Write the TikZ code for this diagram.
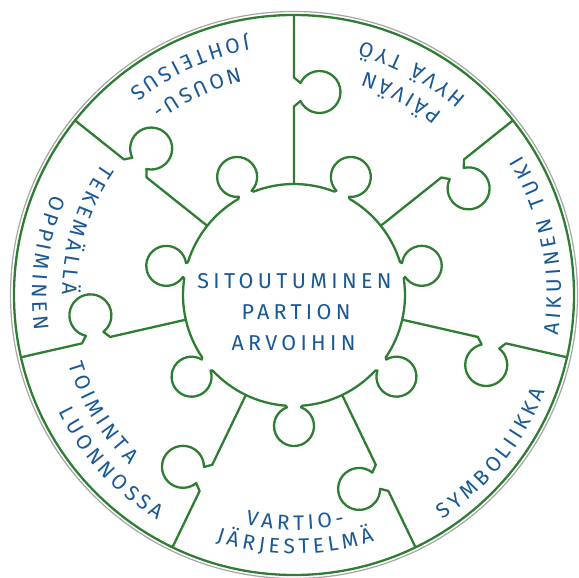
\documentclass[tikz,border=0pt]{standalone}
\usepackage{fontspec}
\setmainfont{Fira Sans}
\newfontfamily\lbl{Fira Sans}
\newfontfamily\clbl[LetterSpace=20]{Fira Sans}
\usetikzlibrary{decorations.text}
\definecolor{pgreen}{RGB}{46,125,50}
\definecolor{pblue}{RGB}{24,88,150}
\definecolor{pgray}{RGB}{165,165,165}
\newcommand\ringfont{\lbl\fontsize{21}{25}\selectfont\kern4pt}
\newcommand\ctrfont{\clbl\fontsize{21.5}{25}\selectfont}
\begin{document}
\begin{tikzpicture}[x=1pt,y=1pt,
  puz/.style={draw=pgreen, line width=2.3pt, line cap=round, line join=round},
  ringtext/.style={decorate, decoration={text along path, text align=center, text color=pblue, text={|\ringfont|#1}}},
  ctr/.style={font=\ctrfont, text=pblue, anchor=base, inner sep=0pt}
]
\useasboundingbox (-294,-283) rectangle (285,295);
% outer rings
\draw[pgray, line width=1.2pt] (0,0) circle[radius=283.5];
\draw[puz] (0,0) circle[radius=280];
% central piece with knobs
\foreach \k in {0,...,6}{
  \begin{scope}[rotate={270+\k*360/7}]
    \draw[puz] (-4.39:111) -- (112.3,-7) arc[start angle=200.5, end angle=519.5, radius=20]
      -- (4.39:111) arc[start angle=4.39, end angle={360/7-4.39}, radius=111];
  \end{scope}
}
% radial edges with knobs
\foreach \k in {0,...,6}{
  \begin{scope}[rotate={90+\k*360/7}]
    \draw[puz] (111,0) -- (188.5,0) -- (194,-6.5) arc[start angle=115.35, end angle=424.65, radius=21]
      -- (217.5,0) -- (280,0);
  \end{scope}
}
% central text
\node[ctr] (t1) at (0.5,6.5) {SITOUTUMINEN};
\node[ctr] (t2) at (2,-25) {PARTION};
\node[ctr] (t3) at (-0.5,-55.5) {ARVOIHIN};
% ring texts (counter-clockwise arcs, letters facing centre)
\path[ringtext={PÄIVÄN}] (21:234) arc[start angle=21, end angle=101, radius=234];
\path[ringtext={HYVÄ TYÖ}] (21.5:262) arc[start angle=21.5, end angle=101.5, radius=262];
\path[ringtext={NOUSU-}] (75:234) arc[start angle=75, end angle=155, radius=234];
\path[ringtext={JOHTEISUS}] (74:263) arc[start angle=74, end angle=154, radius=263];
\path[ringtext={TEKEMÄLLÄ}] (122.3:232) arc[start angle=122.3, end angle=202.3, radius=232];
\path[ringtext={OPPIMINEN}] (132.2:262) arc[start angle=132.2, end angle=212.2, radius=262];
\path[ringtext={TOIMINTA}] (171:236) arc[start angle=171, end angle=251, radius=236];
\path[ringtext={LUONNOSSA}] (182.2:263) arc[start angle=182.2, end angle=262.2, radius=263];
\path[ringtext={VARTIO-}] (229.8:235) arc[start angle=229.8, end angle=309.8, radius=235];
\path[ringtext={JÄRJESTELMÄ}] (229.8:259) arc[start angle=229.8, end angle=309.8, radius=259];
\path[ringtext={SYMBOLIIKKA}] (280.8:269) arc[start angle=280.8, end angle=360.8, radius=269];
\path[ringtext={AIKUINEN TUKI}] (-29:267) arc[start angle=-29, end angle=51, radius=267];
\end{tikzpicture}
\end{document}
